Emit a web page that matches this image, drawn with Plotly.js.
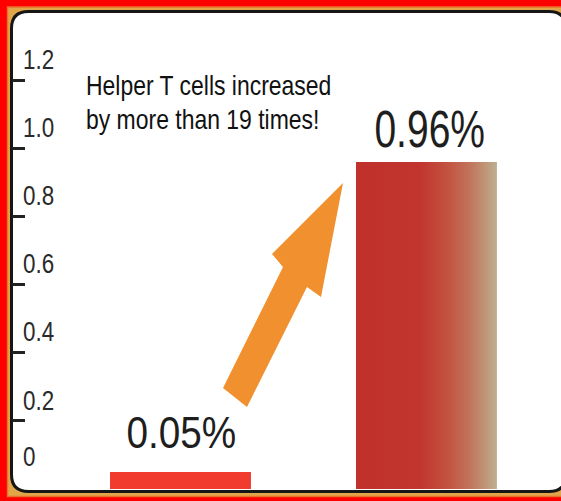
<!DOCTYPE html>
<html>
<head>
<meta charset="utf-8">
<script src="https://cdn.plot.ly/plotly-3.0.1.min.js"></script>
<style>html,body{margin:0;padding:0;background:#fff;}#chart{width:561px;height:501px;}</style>
</head>
<body>
<div id="chart"></div>
<script>
// ---- data ----
const categories = ["Before", "After"];
const values = [0.05, 0.96];
const valueLabels = ["0.05%", "0.96%"];
const tickValues = [0, 0.2, 0.4, 0.6, 0.8, 1.0, 1.2];
const tickLabels = ["0", "0.2", "0.4", "0.6", "0.8", "1.0", "1.2"];
const captionLines = ["Helper T cells increased", "by more than 19 times!"];

// ---- geometry helpers (pixel -> paper) ----
const W = 561, H = 501, ML = 12, MR = 0, MT = 12, MB = 12;
const PW = W - ML - MR, PH = H - MT - MB;
const px = x => (x - ML) / PW;
const py = y => (H - MB - y) / PH;
function pathFrom(cmds) {
  return cmds.map(c => {
    if (c[0] === 'Z') return 'Z';
    let s = c[0];
    for (let i = 1; i < c.length; i += 2) s += ' ' + px(c[i]).toFixed(5) + ',' + py(c[i+1]).toFixed(5);
    return s;
  }).join(' ');
}
// rounded frame
const fx0 = 11.5, fy0 = 11.5, fx1 = 566, fy1 = 491.5, r = 17;
const framePath = pathFrom([
  ['M', fx0 + r, fy0], ['L', fx1 - r, fy0], ['Q', fx1, fy0, fx1, fy0 + r],
  ['L', fx1, fy1 - r], ['Q', fx1, fy1, fx1 - r, fy1],
  ['L', fx0 + r, fy1], ['Q', fx0, fy1, fx0, fy1 - r],
  ['L', fx0, fy0 + r], ['Q', fx0, fy0, fx0 + r, fy0], ['Z']
]);
const arrowPath = pathFrom([
  ['M', 223, 388], ['L', 283, 267], ['L', 272, 254], ['L', 343, 183],
  ['L', 321, 297], ['L', 307, 287], ['L', 247, 407], ['Z']
]);

const FONT = '"Liberation Sans", Arial, Helvetica, sans-serif';

const trace = {
  type: 'bar',
  x: categories,
  y: values,
  width: 0.573,
  marker: { color: ['#f23b2f', '#c0302c'], line: { width: 0 } },
  hoverinfo: 'none'
};

const annotations = categories.map((c, i) => ({
  x: c, y: values[i], xref: 'x', yref: 'y',
  text: valueLabels[i], showarrow: false,
  xanchor: 'center', yanchor: 'middle',
  xshift: i === 0 ? 1 : 3,
  yshift: i === 0 ? 39 : 33,
  font: { family: FONT, size: i === 0 ? 44 : 52, color: '#1e1e1e' }
}));
captionLines.forEach((t, i) => annotations.push({
  x: px(84), y: py(i === 0 ? 85 : 119), xref: 'paper', yref: 'paper',
  text: t, showarrow: false,
  xanchor: 'left', yanchor: 'middle', align: 'left',
  font: { family: FONT, size: 28, color: '#111' }
}));

const layout = {
  width: W, height: H,
  margin: { l: ML, r: MR, t: MT, b: MB, pad: 0 },
  paper_bgcolor: '#ff0000',
  plot_bgcolor: 'rgba(0,0,0,0)',
  showlegend: false,
  xaxis: {
    type: 'category', range: [-0.685, 1.547],
    showticklabels: false, showgrid: false, zeroline: false, showline: false, ticks: ''
  },
  yaxis: {
    range: [0, 1.4], tickmode: 'array', tickvals: tickValues, ticktext: tickLabels,
    ticks: 'inside', ticklen: 13, tickwidth: 3, tickcolor: '#222',
    ticklabelposition: 'inside top', ticklabelstandoff: 8,
    tickfont: { family: FONT, size: 28, color: '#2a2a2a' },
    showgrid: false, zeroline: false, showline: false
  },
  shapes: [
    { type: 'rect', xref: 'paper', yref: 'paper', layer: 'below',
      x0: px(7.5), x1: px(575), y0: py(7), y1: py(496.5),
      fillcolor: '#e2a64a', line: { width: 0 } },
    { type: 'rect', xref: 'paper', yref: 'paper', layer: 'below',
      x0: px(7.5), x1: px(575), y0: py(7), y1: py(496.5),
      fillcolor: 'rgba(0,0,0,0)', line: { width: 1.5, color: '#e8702a' } },
    { type: 'path', xref: 'paper', yref: 'paper', layer: 'below',
      path: framePath, fillcolor: '#ffffff', line: { width: 3, color: '#161616' } },
    { type: 'path', xref: 'paper', yref: 'paper', layer: 'above',
      path: arrowPath, fillcolor: '#f0902e', line: { width: 0 } }
  ],
  annotations: annotations
};

// horizontal condensing factors (the reference uses narrow type)
const annScale = [0.88, 0.75, 0.82, 0.82];
const tickScale = 0.8;

function condense(el, s, mode, dy) {
  const bb = el.getBBox();
  const cx = mode === 'center' ? bb.x + bb.width / 2 : bb.x;
  const prev = el.getAttribute('transform') || '';
  el.setAttribute('transform', prev + ' translate(' + cx + ',' + (dy || 0) + ') scale(' + s + ',1) translate(' + (-cx) + ',0)');
}

Plotly.newPlot('chart', [trace], layout, { displayModeBar: false, staticPlot: true }).then(gd => {
  const svg = gd.querySelector('svg.main-svg');
  const ns = 'http://www.w3.org/2000/svg';
  let defs = svg.querySelector('defs');
  if (!defs) { defs = document.createElementNS(ns, 'defs'); svg.insertBefore(defs, svg.firstChild); }
  const lg = document.createElementNS(ns, 'linearGradient');
  lg.setAttribute('id', 'barGrad');
  lg.setAttribute('x1', '0'); lg.setAttribute('x2', '1'); lg.setAttribute('y1', '0'); lg.setAttribute('y2', '0');
  [['0', '#c0302c'], ['0.45', '#c1352e'], ['0.64', '#c2513f'], ['0.80', '#c1725a'], ['0.92', '#c09676'], ['1', '#bdb092']].forEach(([o, c]) => {
    const s = document.createElementNS(ns, 'stop');
    s.setAttribute('offset', o); s.setAttribute('stop-color', c);
    lg.appendChild(s);
  });
  defs.appendChild(lg);
  const paths = gd.querySelectorAll('.bars .point path');
  if (paths[1]) paths[1].style.fill = 'url(#barGrad)';

  gd.querySelectorAll('.annotation-text').forEach((t, i) => {
    condense(t, annScale[i], i < 2 ? 'center' : 'left');
  });
  gd.querySelectorAll('.ytick text').forEach(t => {
    condense(t, tickScale, 'left', t.textContent === '0' ? -12 : 0);
  });
});
</script>
</body>
</html>
